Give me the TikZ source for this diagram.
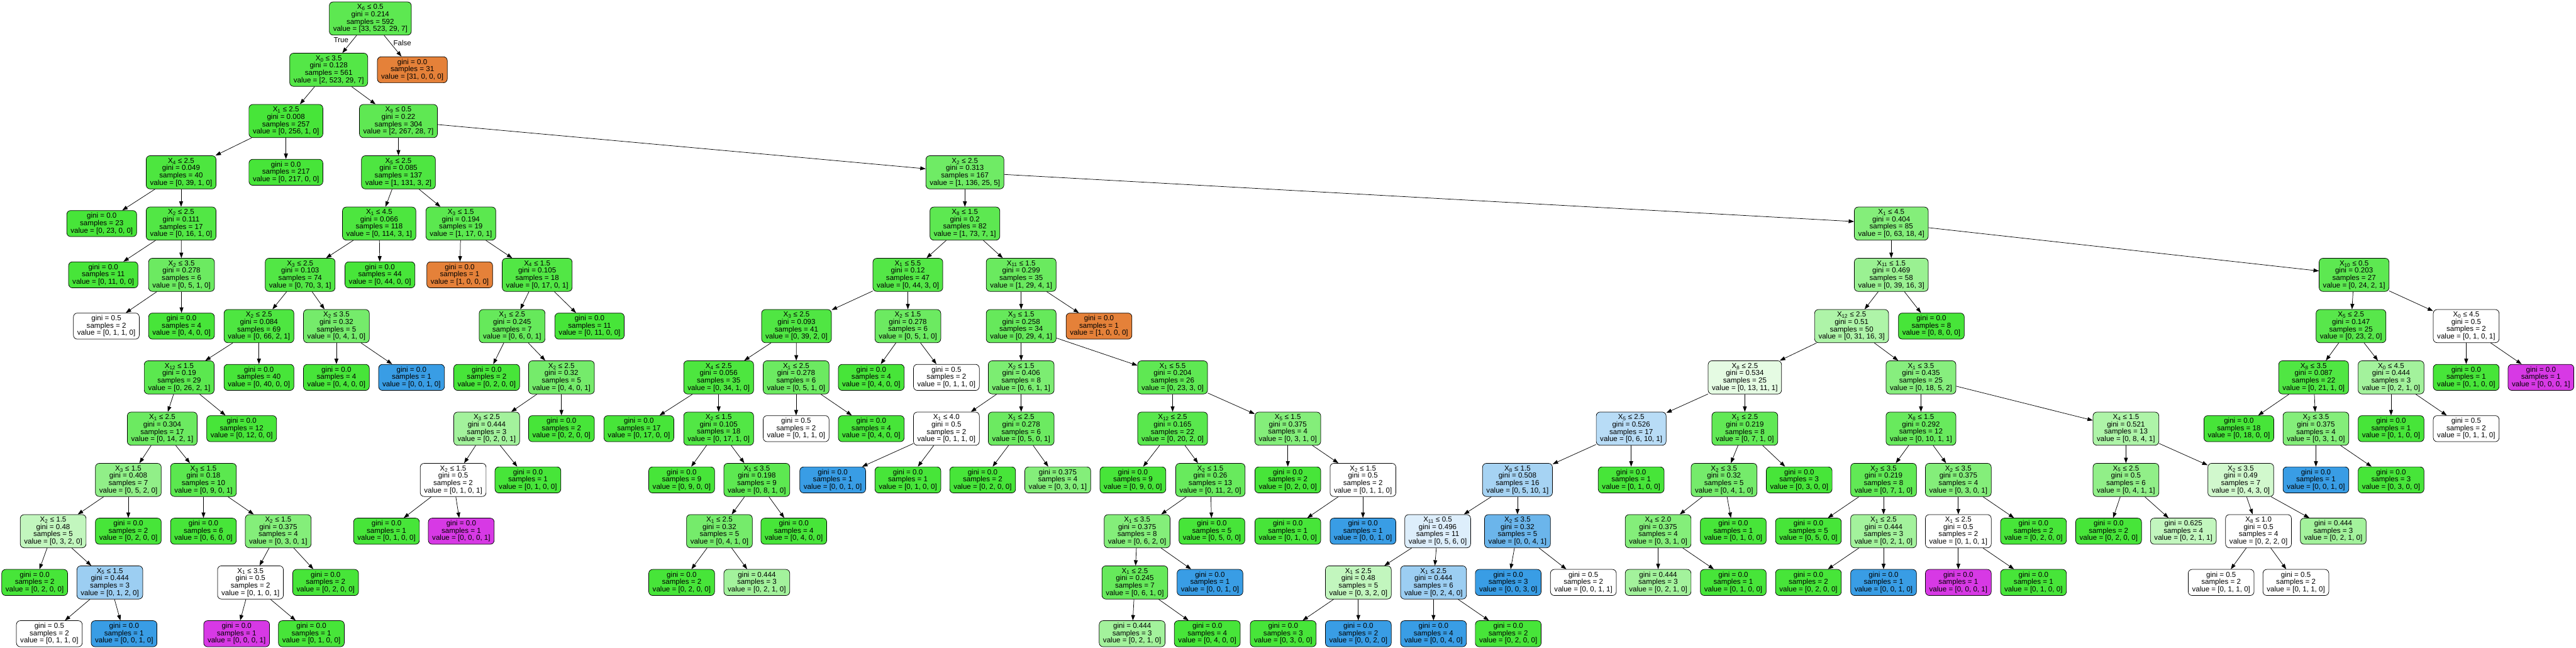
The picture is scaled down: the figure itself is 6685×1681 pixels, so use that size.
\documentclass[tikz,border=0pt]{standalone}
\usepackage{fontspec}
\setmainfont{Liberation Sans}
\usetikzlibrary{arrows.meta}
\definecolor{cO}{HTML}{E58139}
\definecolor{cG}{HTML}{47E539}
\definecolor{cB}{HTML}{399DE5}
\definecolor{cM}{HTML}{D739E5}
\newcommand\dtsplit[5]{X\textsubscript{#1} ≤ #2\\gini = #3\\samples = #4\\value = [#5]}
\newcommand\dtleaf[3]{gini = #1\\samples = #2\\value = [#3]}
\begin{document}
\begin{tikzpicture}[x=0.5pt,y=-0.5pt,
  box/.style={draw=black, line width=0.6pt, rounded corners=5pt, align=center,
    inner xsep=5pt, inner ysep=3pt, font=\fontsize{9.45}{9.5}\selectfont},
  gf/.style={box, fill=cG!#1!white},
  bf/.style={box, fill=cB!#1!white},
  of/.style={box, fill=cO},
  mf/.style={box, fill=cM},
  wf/.style={box, fill=white},
  edgelbl/.style={font=\fontsize{9.45}{9.5}\selectfont, inner sep=0pt},
  conn/.style={draw=black, line width=0.6pt, -{Triangle[length=7pt,width=5pt]}}]
\fill[white] (0,0) rectangle (6685,1681);
% depth 0
\node[gf=88] (n0) at (961,48) {\dtsplit{6}{0.5}{0.214}{592}{33, 523, 29, 7}};
% depth 1
\node[gf=93] (n1) at (853,181) {\dtsplit{0}{3.5}{0.128}{561}{2, 523, 29, 7}};
\node[of] (n2) at (1070,181) {\dtleaf{0.0}{31}{31, 0, 0, 0}};
% depth 2
\node[gf=100] (n3) at (742,314) {\dtsplit{1}{2.5}{0.008}{257}{0, 256, 1, 0}};
\node[gf=87] (n4) at (1034,314) {\dtsplit{9}{0.5}{0.22}{304}{2, 267, 28, 7}};
% depth 3
\node[gf=97] (n5) at (470,447) {\dtsplit{4}{2.5}{0.049}{40}{0, 39, 1, 0}};
\node[gf=100] (n6) at (742,447) {\dtleaf{0.0}{217}{0, 217, 0, 0}};
\node[gf=96] (n7) at (1034,447) {\dtsplit{5}{2.5}{0.085}{137}{1, 131, 3, 2}};
\node[gf=78] (n8) at (2504,447) {\dtsplit{2}{2.5}{0.313}{167}{1, 136, 25, 5}};
% depth 4
\node[gf=100] (n9) at (264,580) {\dtleaf{0.0}{23}{0, 23, 0, 0}};
\node[gf=94] (n10) at (470,580) {\dtsplit{2}{2.5}{0.111}{17}{0, 16, 1, 0}};
\node[gf=97] (n11) at (984,580) {\dtsplit{1}{4.5}{0.066}{118}{0, 114, 3, 1}};
\node[gf=89] (n12) at (1196,580) {\dtsplit{3}{1.5}{0.194}{19}{1, 17, 0, 1}};
\node[gf=88] (n13) at (2504,580) {\dtsplit{8}{1.5}{0.2}{82}{1, 73, 7, 1}};
\node[gf=67] (n14) at (4908,580) {\dtsplit{1}{4.5}{0.404}{85}{0, 63, 18, 4}};
% depth 5
\node[gf=100] (n15) at (268,713) {\dtleaf{0.0}{11}{0, 11, 0, 0}};
\node[gf=80] (n16) at (471,713) {\dtsplit{2}{3.5}{0.278}{6}{0, 5, 1, 0}};
\node[gf=94] (n17) at (779,713) {\dtsplit{3}{2.5}{0.103}{74}{0, 70, 3, 1}};
\node[gf=100] (n18) at (986,713) {\dtleaf{0.0}{44}{0, 44, 0, 0}};
\node[of] (n19) at (1193,713) {\dtleaf{0.0}{1}{1, 0, 0, 0}};
\node[gf=94] (n20) at (1394,713) {\dtsplit{4}{1.5}{0.105}{18}{0, 17, 0, 1}};
\node[gf=93] (n21) at (2356,713) {\dtsplit{1}{5.5}{0.12}{47}{0, 44, 3, 0}};
\node[gf=81] (n22) at (2650,713) {\dtsplit{11}{1.5}{0.299}{35}{1, 29, 4, 1}};
\node[gf=55] (n23) at (4908,713) {\dtsplit{11}{1.5}{0.469}{58}{0, 39, 16, 3}};
\node[gf=88] (n24) at (6109,713) {\dtsplit{10}{0.5}{0.203}{27}{0, 24, 2, 1}};
% depth 6
\node[wf] (n25) at (276,846) {\dtleaf{0.5}{2}{0, 1, 1, 0}};
\node[gf=100] (n26) at (471,846) {\dtleaf{0.0}{4}{0, 4, 0, 0}};
\node[gf=96] (n27) at (672,846) {\dtsplit{2}{2.5}{0.084}{69}{0, 66, 2, 1}};
\node[gf=75] (n28) at (873,846) {\dtsplit{2}{3.5}{0.32}{5}{0, 4, 1, 0}};
\node[gf=83] (n29) at (1329,846) {\dtsplit{1}{2.5}{0.245}{7}{0, 6, 0, 1}};
\node[gf=100] (n30) at (1530,846) {\dtleaf{0.0}{11}{0, 11, 0, 0}};
\node[gf=95] (n31) at (2067,846) {\dtsplit{3}{2.5}{0.093}{41}{0, 39, 2, 0}};
\node[gf=80] (n32) at (2356,846) {\dtsplit{2}{1.5}{0.278}{6}{0, 5, 1, 0}};
\node[gf=83] (n33) at (2650,846) {\dtsplit{3}{1.5}{0.258}{34}{0, 29, 4, 1}};
\node[of] (n34) at (2852,846) {\dtleaf{0.0}{1}{1, 0, 0, 0}};
\node[gf=44] (n35) at (4805,846) {\dtsplit{12}{2.5}{0.51}{50}{0, 31, 16, 3}};
\node[gf=100] (n36) at (5012,846) {\dtleaf{0.0}{8}{0, 8, 0, 0}};
\node[gf=91] (n37) at (6101,846) {\dtsplit{5}{2.5}{0.147}{25}{0, 23, 2, 0}};
\node[wf] (n38) at (6400,846) {\dtsplit{0}{4.5}{0.5}{2}{0, 1, 0, 1}};
% depth 7
\node[gf=89] (n39) at (465,979) {\dtsplit{12}{1.5}{0.19}{29}{0, 26, 2, 1}};
\node[gf=100] (n40) at (672,979) {\dtleaf{0.0}{40}{0, 40, 0, 0}};
\node[gf=100] (n41) at (873,979) {\dtleaf{0.0}{4}{0, 4, 0, 0}};
\node[bf=100] (n42) at (1068,979) {\dtleaf{0.0}{1}{0, 0, 1, 0}};
\node[gf=100] (n43) at (1263,979) {\dtleaf{0.0}{2}{0, 2, 0, 0}};
\node[gf=75] (n44) at (1457,979) {\dtsplit{2}{2.5}{0.32}{5}{0, 4, 0, 1}};
\node[gf=97] (n45) at (1865,979) {\dtsplit{4}{2.5}{0.056}{35}{0, 34, 1, 0}};
\node[gf=80] (n46) at (2066,979) {\dtsplit{1}{2.5}{0.278}{6}{0, 5, 1, 0}};
\node[gf=100] (n47) at (2261,979) {\dtleaf{0.0}{4}{0, 4, 0, 0}};
\node[wf] (n48) at (2456,979) {\dtleaf{0.5}{2}{0, 1, 1, 0}};
\node[gf=71] (n49) at (2650,979) {\dtsplit{2}{1.5}{0.406}{8}{0, 6, 1, 1}};
\node[gf=87] (n50) at (3043,979) {\dtsplit{1}{5.5}{0.204}{26}{0, 23, 3, 0}};
\node[gf=14] (n51) at (4528,979) {\dtsplit{8}{2.5}{0.534}{25}{0, 13, 11, 1}};
\node[gf=65] (n52) at (4985,979) {\dtsplit{1}{3.5}{0.435}{25}{0, 18, 5, 2}};
\node[gf=95] (n53) at (6004,979) {\dtsplit{8}{3.5}{0.087}{22}{0, 21, 1, 0}};
\node[gf=50] (n54) at (6205,979) {\dtsplit{0}{4.5}{0.444}{3}{0, 2, 1, 0}};
\node[gf=100] (n55) at (6400,979) {\dtleaf{0.0}{1}{0, 1, 0, 0}};
\node[mf] (n56) at (6594,979) {\dtleaf{0.0}{1}{0, 0, 0, 1}};
% depth 8
\node[gf=80] (n57) at (421,1112) {\dtsplit{1}{2.5}{0.304}{17}{0, 14, 2, 1}};
\node[gf=100] (n58) at (627,1112) {\dtleaf{0.0}{12}{0, 12, 0, 0}};
\node[gf=50] (n59) at (1263,1112) {\dtsplit{3}{2.5}{0.444}{3}{0, 2, 0, 1}};
\node[gf=100] (n60) at (1457,1112) {\dtleaf{0.0}{2}{0, 2, 0, 0}};
\node[gf=100] (n61) at (1658,1112) {\dtleaf{0.0}{17}{0, 17, 0, 0}};
\node[gf=94] (n62) at (1865,1112) {\dtsplit{2}{1.5}{0.105}{18}{0, 17, 1, 0}};
\node[wf] (n63) at (2066,1112) {\dtleaf{0.5}{2}{0, 1, 1, 0}};
\node[gf=100] (n64) at (2261,1112) {\dtleaf{0.0}{4}{0, 4, 0, 0}};
\node[wf] (n65) at (2456,1112) {\dtsplit{1}{4.0}{0.5}{2}{0, 1, 1, 0}};
\node[gf=80] (n66) at (2650,1112) {\dtsplit{1}{2.5}{0.278}{6}{0, 5, 0, 1}};
\node[gf=90] (n67) at (3043,1112) {\dtsplit{12}{2.5}{0.165}{22}{0, 20, 2, 0}};
\node[gf=67] (n68) at (3342,1112) {\dtsplit{5}{1.5}{0.375}{4}{0, 3, 1, 0}};
\node[bf=36] (n69) at (4233,1112) {\dtsplit{5}{2.5}{0.526}{17}{0, 6, 10, 1}};
\node[gf=86] (n70) at (4528,1112) {\dtsplit{1}{2.5}{0.219}{8}{0, 7, 1, 0}};
\node[gf=82] (n71) at (4985,1112) {\dtsplit{8}{1.5}{0.292}{12}{0, 10, 1, 1}};
\node[gf=44] (n72) at (5517,1112) {\dtsplit{4}{1.5}{0.521}{13}{0, 8, 4, 1}};
\node[gf=100] (n73) at (5810,1112) {\dtleaf{0.0}{18}{0, 18, 0, 0}};
\node[gf=67] (n74) at (6010,1112) {\dtsplit{2}{3.5}{0.375}{4}{0, 3, 1, 0}};
\node[gf=100] (n75) at (6205,1112) {\dtleaf{0.0}{1}{0, 1, 0, 0}};
\node[wf] (n76) at (6400,1112) {\dtleaf{0.5}{2}{0, 1, 1, 0}};
% depth 9
\node[gf=60] (n77) at (333,1245) {\dtsplit{3}{1.5}{0.408}{7}{0, 5, 2, 0}};
\node[gf=89] (n78) at (528,1245) {\dtsplit{3}{1.5}{0.18}{10}{0, 9, 0, 1}};
\node[wf] (n79) at (1176,1245) {\dtsplit{2}{1.5}{0.5}{2}{0, 1, 0, 1}};
\node[gf=100] (n80) at (1370,1245) {\dtleaf{0.0}{1}{0, 1, 0, 0}};
\node[gf=100] (n81) at (1769,1245) {\dtleaf{0.0}{9}{0, 9, 0, 0}};
\node[gf=88] (n82) at (1964,1245) {\dtsplit{1}{3.5}{0.198}{9}{0, 8, 1, 0}};
\node[bf=100] (n83) at (2161,1245) {\dtleaf{0.0}{1}{0, 0, 1, 0}};
\node[gf=100] (n84) at (2356,1245) {\dtleaf{0.0}{1}{0, 1, 0, 0}};
\node[gf=100] (n85) at (2550,1245) {\dtleaf{0.0}{2}{0, 2, 0, 0}};
\node[gf=67] (n86) at (2745,1245) {\dtleaf{0.375}{4}{0, 3, 0, 1}};
\node[gf=100] (n87) at (2940,1245) {\dtleaf{0.0}{9}{0, 9, 0, 0}};
\node[gf=82] (n88) at (3141,1245) {\dtsplit{2}{1.5}{0.26}{13}{0, 11, 2, 0}};
\node[gf=100] (n89) at (3342,1245) {\dtleaf{0.0}{2}{0, 2, 0, 0}};
\node[wf] (n90) at (3537,1245) {\dtsplit{2}{1.5}{0.5}{2}{0, 1, 1, 0}};
\node[bf=45] (n91) at (3938,1245) {\dtsplit{8}{1.5}{0.508}{16}{0, 5, 10, 1}};
\node[gf=100] (n92) at (4233,1245) {\dtleaf{0.0}{1}{0, 1, 0, 0}};
\node[gf=75] (n93) at (4474,1245) {\dtsplit{2}{3.5}{0.32}{5}{0, 4, 1, 0}};
\node[gf=100] (n94) at (4669,1245) {\dtleaf{0.0}{3}{0, 3, 0, 0}};
\node[gf=86] (n95) at (4888,1245) {\dtsplit{2}{3.5}{0.219}{8}{0, 7, 1, 0}};
\node[gf=67] (n96) at (5082,1245) {\dtsplit{2}{3.5}{0.375}{4}{0, 3, 0, 1}};
\node[gf=60] (n97) at (5517,1245) {\dtsplit{5}{2.5}{0.5}{6}{0, 4, 1, 1}};
\node[gf=25] (n98) at (5815,1245) {\dtsplit{2}{3.5}{0.49}{7}{0, 4, 3, 0}};
\node[bf=100] (n99) at (6010,1245) {\dtleaf{0.0}{1}{0, 0, 1, 0}};
\node[gf=100] (n100) at (6205,1245) {\dtleaf{0.0}{3}{0, 3, 0, 0}};
% depth 10
\node[gf=33] (n101) at (138,1378) {\dtsplit{2}{1.5}{0.48}{5}{0, 3, 2, 0}};
\node[gf=100] (n102) at (333,1378) {\dtleaf{0.0}{2}{0, 2, 0, 0}};
\node[gf=100] (n103) at (528,1378) {\dtleaf{0.0}{6}{0, 6, 0, 0}};
\node[gf=67] (n104) at (722,1378) {\dtsplit{2}{1.5}{0.375}{4}{0, 3, 0, 1}};
\node[gf=100] (n105) at (1003,1378) {\dtleaf{0.0}{1}{0, 1, 0, 0}};
\node[mf] (n106) at (1197,1378) {\dtleaf{0.0}{1}{0, 0, 0, 1}};
\node[gf=75] (n107) at (1867,1378) {\dtsplit{1}{2.5}{0.32}{5}{0, 4, 1, 0}};
\node[gf=100] (n108) at (2060,1378) {\dtleaf{0.0}{4}{0, 4, 0, 0}};
\node[gf=67] (n109) at (2951,1378) {\dtsplit{1}{3.5}{0.375}{8}{0, 6, 2, 0}};
\node[gf=100] (n110) at (3145,1378) {\dtleaf{0.0}{5}{0, 5, 0, 0}};
\node[gf=100] (n111) at (3342,1378) {\dtleaf{0.0}{1}{0, 1, 0, 0}};
\node[bf=100] (n112) at (3537,1378) {\dtleaf{0.0}{1}{0, 0, 1, 0}};
\node[bf=17] (n113) at (3731,1378) {\dtsplit{11}{0.5}{0.496}{11}{0, 5, 6, 0}};
\node[bf=75] (n114) at (3938,1378) {\dtsplit{2}{3.5}{0.32}{5}{0, 0, 4, 1}};
\node[gf=67] (n115) at (4303,1378) {\dtsplit{4}{2.0}{0.375}{4}{0, 3, 1, 0}};
\node[gf=100] (n116) at (4498,1378) {\dtleaf{0.0}{1}{0, 1, 0, 0}};
\node[gf=100] (n117) at (4693,1378) {\dtleaf{0.0}{5}{0, 5, 0, 0}};
\node[gf=50] (n118) at (4888,1378) {\dtsplit{1}{2.5}{0.444}{3}{0, 2, 1, 0}};
\node[wf] (n119) at (5082,1378) {\dtsplit{1}{2.5}{0.5}{2}{0, 1, 0, 1}};
\node[gf=100] (n120) at (5277,1378) {\dtleaf{0.0}{2}{0, 2, 0, 0}};
\node[gf=100] (n121) at (5472,1378) {\dtleaf{0.0}{2}{0, 2, 0, 0}};
\node[gf=33] (n122) at (5666,1378) {\dtleaf{0.625}{4}{0, 2, 1, 1}};
\node[wf] (n123) at (5861,1378) {\dtsplit{8}{1.0}{0.5}{4}{0, 2, 2, 0}};
\node[gf=50] (n124) at (6055,1378) {\dtleaf{0.444}{3}{0, 2, 1, 0}};
% depth 11
\node[gf=100] (n125) at (90,1511) {\dtleaf{0.0}{2}{0, 2, 0, 0}};
\node[bf=50] (n126) at (285,1511) {\dtsplit{5}{1.5}{0.444}{3}{0, 1, 2, 0}};
\node[wf] (n127) at (650,1511) {\dtsplit{1}{3.5}{0.5}{2}{0, 1, 0, 1}};
\node[gf=100] (n128) at (845,1511) {\dtleaf{0.0}{2}{0, 2, 0, 0}};
\node[gf=100] (n129) at (1769,1511) {\dtleaf{0.0}{2}{0, 2, 0, 0}};
\node[gf=50] (n130) at (1964,1511) {\dtleaf{0.444}{3}{0, 2, 1, 0}};
\node[gf=83] (n131) at (2945,1511) {\dtsplit{1}{2.5}{0.245}{7}{0, 6, 1, 0}};
\node[bf=100] (n132) at (3140,1511) {\dtleaf{0.0}{1}{0, 0, 1, 0}};
\node[gf=33] (n133) at (3525,1511) {\dtsplit{1}{2.5}{0.48}{5}{0, 3, 2, 0}};
\node[bf=50] (n134) at (3720,1511) {\dtsplit{1}{2.5}{0.444}{6}{0, 2, 4, 0}};
\node[bf=100] (n135) at (3914,1511) {\dtleaf{0.0}{3}{0, 0, 3, 0}};
\node[wf] (n136) at (4109,1511) {\dtleaf{0.5}{2}{0, 0, 1, 1}};
\node[gf=50] (n137) at (4303,1511) {\dtleaf{0.444}{3}{0, 2, 1, 0}};
\node[gf=100] (n138) at (4498,1511) {\dtleaf{0.0}{1}{0, 1, 0, 0}};
\node[gf=100] (n139) at (4693,1511) {\dtleaf{0.0}{2}{0, 2, 0, 0}};
\node[bf=100] (n140) at (4888,1511) {\dtleaf{0.0}{1}{0, 0, 1, 0}};
\node[mf] (n141) at (5082,1511) {\dtleaf{0.0}{1}{0, 0, 0, 1}};
\node[gf=100] (n142) at (5277,1511) {\dtleaf{0.0}{1}{0, 1, 0, 0}};
\node[wf] (n143) at (5764,1511) {\dtleaf{0.5}{2}{0, 1, 1, 0}};
\node[wf] (n144) at (5958,1511) {\dtleaf{0.5}{2}{0, 1, 1, 0}};
% depth 12
\node[wf] (n145) at (128,1644) {\dtleaf{0.5}{2}{0, 1, 1, 0}};
\node[bf=100] (n146) at (322,1644) {\dtleaf{0.0}{1}{0, 0, 1, 0}};
\node[mf] (n147) at (614,1644) {\dtleaf{0.0}{1}{0, 0, 0, 1}};
\node[gf=100] (n148) at (808,1644) {\dtleaf{0.0}{1}{0, 1, 0, 0}};
\node[gf=50] (n149) at (2938,1644) {\dtleaf{0.444}{3}{0, 2, 1, 0}};
\node[gf=100] (n150) at (3133,1644) {\dtleaf{0.0}{4}{0, 4, 0, 0}};
\node[gf=100] (n151) at (3330,1644) {\dtleaf{0.0}{3}{0, 3, 0, 0}};
\node[bf=100] (n152) at (3525,1644) {\dtleaf{0.0}{2}{0, 0, 2, 0}};
\node[bf=100] (n153) at (3720,1644) {\dtleaf{0.0}{4}{0, 0, 4, 0}};
\node[gf=100] (n154) at (3914,1644) {\dtleaf{0.0}{2}{0, 2, 0, 0}};
% edge labels
\node[edgelbl] (ltrue) at (885,103) {True};
\node[edgelbl] (lfalse) at (1044,111) {False};
% connectors
\foreach \a/\b in {n0/n1,n0/n2,n1/n3,n1/n4,n3/n5,n3/n6,n4/n7,n4/n8,
  n5/n9,n5/n10,n7/n11,n7/n12,n8/n13,n8/n14,
  n10/n15,n10/n16,n11/n17,n11/n18,n12/n19,n12/n20,n13/n21,n13/n22,n14/n23,n14/n24,
  n16/n25,n16/n26,n17/n27,n17/n28,n20/n29,n20/n30,n21/n31,n21/n32,n22/n33,n22/n34,
  n23/n35,n23/n36,n24/n37,n24/n38,
  n27/n39,n27/n40,n28/n41,n28/n42,n29/n43,n29/n44,n31/n45,n31/n46,n32/n47,n32/n48,
  n33/n49,n33/n50,n35/n51,n35/n52,n37/n53,n37/n54,n38/n55,n38/n56,
  n39/n57,n39/n58,n44/n59,n44/n60,n45/n61,n45/n62,n46/n63,n46/n64,n49/n65,n49/n66,
  n50/n67,n50/n68,n51/n69,n51/n70,n52/n71,n52/n72,n53/n73,n53/n74,n54/n75,n54/n76,
  n57/n77,n57/n78,n59/n79,n59/n80,n62/n81,n62/n82,n65/n83,n65/n84,n66/n85,n66/n86,
  n67/n87,n67/n88,n68/n89,n68/n90,n69/n91,n69/n92,n70/n93,n70/n94,n71/n95,n71/n96,
  n72/n97,n72/n98,n74/n99,n74/n100,
  n77/n101,n77/n102,n78/n103,n78/n104,n79/n105,n79/n106,n82/n107,n82/n108,
  n88/n109,n88/n110,n90/n111,n90/n112,n91/n113,n91/n114,n93/n115,n93/n116,
  n95/n117,n95/n118,n96/n119,n96/n120,n97/n121,n97/n122,n98/n123,n98/n124,
  n101/n125,n101/n126,n104/n127,n104/n128,n107/n129,n107/n130,n109/n131,n109/n132,
  n113/n133,n113/n134,n114/n135,n114/n136,n115/n137,n115/n138,n118/n139,n118/n140,
  n119/n141,n119/n142,n123/n143,n123/n144,
  n126/n145,n126/n146,n127/n147,n127/n148,n131/n149,n131/n150,n133/n151,n133/n152,
  n134/n153,n134/n154}
  \draw[conn] (\a) -- (\b);
\end{tikzpicture}
\end{document}
